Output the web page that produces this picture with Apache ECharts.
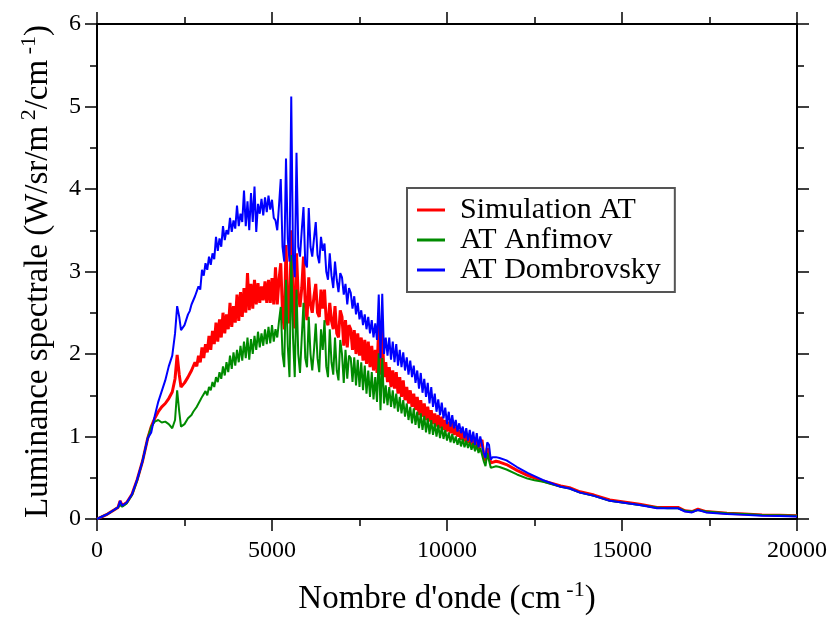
<!DOCTYPE html>
<html>
<head>
<meta charset="utf-8">
<script src="https://cdn.jsdelivr.net/npm/echarts@6/dist/echarts.min.js"></script>
<style>
  html, body { margin: 0; padding: 0; background: #fff; }
  #chart { width: 837px; height: 618px; }
</style>
</head>
<body>
<div id="chart"></div>
<script>
// nombre d'onde (cm-1)
var wavenumbers = [
  0, 150, 300, 450, 600, 660, 720, 850, 1000, 1150, 1300, 1450, 1550, 1650, 1750, 1850, 1950, 2050, 2150, 2230, 2290, 2350, 2400, 2500,
  2600, 2650, 2700, 2750, 2800, 2850, 2900, 2950, 3000, 3050,
  3100, 3150, 3200, 3250, 3300, 3350, 3400, 3450, 3500, 3550,
  3600, 3650, 3700, 3750, 3800, 3850, 3900, 3950, 4000, 4050,
  4100, 4150, 4200, 4250, 4300, 4350, 4400, 4450, 4500, 4550,
  4600, 4650, 4700, 4750, 4800, 4850, 4900, 4950, 5000, 5050,
  5100,
  5150, 5200, 5250, 5300, 5350, 5400, 5450, 5500, 5550, 5600,
  5650, 5700, 5750, 5800, 5850, 5900, 5950, 6000, 6050, 6100,
  6150, 6200, 6250, 6300, 6350, 6400,
  6450, 6500, 6550, 6600, 6650, 6700, 6750, 6800, 6850, 6900,
  6950, 7000, 7050, 7100, 7150, 7200, 7250, 7300, 7350, 7400,
  7450, 7500, 7550, 7600, 7650, 7700, 7750, 7800, 7850, 7900,
  7950, 8000, 8050, 8100, 8150, 8200, 8250, 8300, 8350, 8400,
  8450, 8500, 8550, 8600, 8650, 8700, 8750, 8800, 8850, 8900,
  8950, 9000, 9050, 9100, 9150, 9200, 9250, 9300, 9350, 9400,
  9450, 9500, 9550, 9600, 9650, 9700, 9750, 9800, 9850, 9900,
  9950, 10000, 10050, 10100, 10150, 10200, 10250, 10300, 10350, 10400,
  10450, 10500, 10550, 10600, 10650, 10700, 10750, 10800, 10850, 10900,
  10950, 11000, 11050, 11100, 11150, 11200, 11250, 11300,
  11400, 11500, 11700, 12000, 12300, 12500, 12750, 13000, 13250, 13500, 13800, 14200, 14650, 15000, 15500, 16000, 16300, 16600, 16800, 17000, 17170, 17400, 18000, 18500, 19000, 19500, 20000
];

var simulationAT = [
  0, 0.03, 0.06, 0.1, 0.14, 0.22, 0.16, 0.2, 0.3, 0.48, 0.7, 0.98, 1.12, 1.22, 1.3, 1.36, 1.4, 1.46, 1.54, 1.7, 1.99, 1.75, 1.6, 1.65,
  1.72, 1.76, 1.8, 1.78, 1.9, 1.85, 1.98, 1.9, 2.08, 1.95,
  2.12, 2.02, 2.22, 2.05, 2.28, 2.12, 2.38, 2.15, 2.42, 2.2,
  2.5, 2.25, 2.48, 2.3, 2.62, 2.33, 2.58, 2.38, 2.72, 2.4,
  2.75, 2.45, 2.8, 2.5, 2.98, 2.53, 2.85, 2.55, 2.9, 2.6,
  2.86, 2.62, 2.82, 2.65, 2.88, 2.62, 2.9, 2.62, 2.92, 2.6,
  3.05,
  2.6, 2.9, 3.1, 2.5, 2.3, 3.32, 2.6, 2.37, 3.5, 2.7,
  2.31, 3.22, 2.7, 2.57, 2.8, 3.18, 2.6, 2.41, 2.93, 2.6,
  2.5, 2.7, 2.85, 2.5, 2.45, 2.78,
  2.55, 2.78, 2.4, 2.35, 2.62, 2.4, 2.3, 2.58, 2.25, 2.2,
  2.53, 2.45, 2.1, 2.41, 2.08, 2.35, 2.3, 2.05, 2.29, 2.0,
  2.25, 1.98, 2.2, 1.92, 2.17, 1.88, 2.15, 1.84, 2.1, 1.8,
  2.05, 1.77, 2.37, 1.75, 2.3, 1.72, 1.9, 1.66, 1.84, 1.6,
  1.8, 1.58, 1.78, 1.52, 1.72, 1.48, 1.68, 1.44, 1.6, 1.4,
  1.56, 1.36, 1.52, 1.32, 1.48, 1.26, 1.44, 1.24, 1.4, 1.2,
  1.36, 1.18, 1.32, 1.15, 1.28, 1.12, 1.26, 1.1, 1.24, 1.08,
  1.2, 1.06, 1.18, 1.04, 1.16, 1.02, 1.12, 1.0, 1.08, 0.96,
  1.06, 0.94, 1.04, 0.92, 1.0, 0.9, 0.98, 0.86, 0.96, 0.84,
  0.92, 0.96, 0.76, 0.7, 0.86, 0.84, 0.68, 0.7,
  0.7, 0.69, 0.66, 0.59, 0.53, 0.5, 0.46, 0.43, 0.4, 0.38, 0.33, 0.29, 0.23, 0.21, 0.18, 0.14, 0.14, 0.14, 0.1, 0.09, 0.12, 0.09, 0.07, 0.06, 0.05, 0.045, 0.04
];

var atAnfimov = [
  0, 0.03, 0.06, 0.1, 0.14, 0.17, 0.15, 0.19, 0.29, 0.47, 0.7, 0.98, 1.12, 1.18, 1.2, 1.17, 1.18, 1.15, 1.1, 1.2, 1.56, 1.3, 1.12, 1.15,
  1.22, 1.24, 1.26, 1.3, 1.33, 1.36, 1.4, 1.44, 1.48, 1.46,
  1.55, 1.5, 1.6, 1.56, 1.66, 1.6, 1.72, 1.66, 1.78, 1.7,
  1.85, 1.74, 1.9, 1.78, 1.98, 1.82, 2.02, 1.86, 2.05, 1.9,
  2.1, 1.92, 2.15, 1.95, 2.2, 1.93, 2.18, 2.0, 2.22, 2.05,
  2.27, 2.08, 2.25, 2.1, 2.3, 2.12, 2.33, 2.13, 2.35, 2.15,
  2.3,
  2.2, 2.4, 2.57, 2.0, 1.84, 2.9, 2.1, 1.72, 3.2, 2.2,
  1.72, 2.78, 2.0, 1.77, 2.2, 2.62, 1.95, 1.84, 2.45, 2.0,
  1.8, 2.05, 2.37, 1.95, 1.78, 2.3,
  2.05, 2.41, 1.85, 1.72, 2.3, 1.9, 1.75, 2.2, 1.8, 1.68,
  2.17, 2.0, 1.65, 2.05, 1.7, 1.98, 1.95, 1.66, 1.96, 1.62,
  1.93, 1.6, 1.9, 1.56, 1.86, 1.52, 1.8, 1.48, 1.78, 1.45,
  1.72, 1.42, 2.01, 1.32, 1.95, 1.4, 1.62, 1.38, 1.6, 1.36,
  1.56, 1.34, 1.52, 1.3, 1.48, 1.28, 1.44, 1.24, 1.4, 1.2,
  1.36, 1.16, 1.34, 1.14, 1.3, 1.1, 1.28, 1.08, 1.25, 1.05,
  1.22, 1.03, 1.2, 1.02, 1.16, 1.0, 1.14, 0.98, 1.12, 0.97,
  1.08, 0.95, 1.05, 0.93, 1.03, 0.92, 1.0, 0.9, 0.98, 0.88,
  0.97, 0.87, 0.95, 0.86, 0.93, 0.84, 0.92, 0.82, 0.9, 0.8,
  0.86, 0.88, 0.7, 0.64, 0.8, 0.78, 0.62, 0.64,
  0.64, 0.63, 0.6, 0.54, 0.49, 0.47, 0.45, 0.42, 0.39, 0.37, 0.32, 0.28, 0.22, 0.2, 0.17, 0.14, 0.13, 0.13, 0.1, 0.09, 0.11, 0.09, 0.07, 0.06, 0.05, 0.045, 0.04
];

var atDombrovsky = [
  0, 0.03, 0.06, 0.1, 0.14, 0.22, 0.16, 0.2, 0.3, 0.48, 0.7, 0.98, 1.05, 1.25, 1.42, 1.55, 1.68, 1.85, 1.98, 2.25, 2.58, 2.45, 2.29, 2.35,
  2.48, 2.52, 2.6, 2.58, 2.7, 2.68, 2.82, 2.78, 3.02, 2.95,
  3.1, 3.02, 3.18, 3.08, 3.22, 3.15, 3.42, 3.25, 3.4, 3.3,
  3.55, 3.38, 3.5, 3.45, 3.65, 3.48, 3.62, 3.52, 3.8, 3.55,
  3.7, 3.6, 3.98, 3.55, 3.85, 3.5, 3.95, 3.6, 4.03, 3.48,
  3.82, 3.7, 3.88, 3.68, 3.9, 3.72, 3.92, 3.75, 3.87, 3.65,
  3.62,
  3.5, 3.8, 4.12, 3.3, 3.12, 4.37, 3.4, 3.12, 5.12, 3.2,
  2.93, 4.44, 3.3, 3.18, 3.5, 3.78, 3.1, 3.05, 3.77, 3.3,
  3.18, 3.4, 3.6, 3.2, 3.1, 3.42,
  3.25, 3.34, 3.0, 2.9, 3.22, 2.95, 2.8, 3.12, 2.9, 2.75,
  2.98, 2.93, 2.72, 2.85, 2.6, 2.8, 2.74, 2.55, 2.7, 2.48,
  2.62, 2.42, 2.53, 2.35, 2.48, 2.3, 2.45, 2.25, 2.41, 2.2,
  2.37, 2.17, 2.72, 1.95, 2.73, 2.0, 2.2, 1.98, 2.2, 1.93,
  2.15, 1.9, 2.12, 1.86, 2.05, 1.84, 2.02, 1.8, 1.96, 1.75,
  1.92, 1.72, 1.86, 1.65, 1.8, 1.58, 1.77, 1.53, 1.7, 1.48,
  1.65, 1.4, 1.6, 1.36, 1.52, 1.3, 1.45, 1.26, 1.41, 1.22,
  1.35, 1.15, 1.3, 1.12, 1.26, 1.1, 1.2, 1.06, 1.16, 1.04,
  1.12, 0.98, 1.1, 0.95, 1.08, 0.93, 1.06, 0.9, 1.04, 0.87,
  1.0, 1.02, 0.8, 0.74, 0.93, 0.9, 0.72, 0.75,
  0.75, 0.74, 0.71, 0.63, 0.56, 0.52, 0.47, 0.43, 0.39, 0.37, 0.32, 0.28, 0.22, 0.2, 0.17, 0.13, 0.13, 0.13, 0.09, 0.08, 0.11, 0.08, 0.06, 0.05, 0.04, 0.035, 0.03
];

var xTicks = [0, 5000, 10000, 15000, 20000];
var yTicks = [0, 1, 2, 3, 4, 5, 6];

function pairs(xs, ys) {
  var out = [];
  for (var i = 0; i < xs.length; i++) out.push([xs[i], ys[i]]);
  return out;
}

var serif = 'Liberation Serif';

function frameAxis(pos, isX, labels) {
  return {
    type: 'value',
    position: pos,
    min: isX ? xTicks[0] : yTicks[0],
    max: isX ? xTicks[xTicks.length - 1] : yTicks[yTicks.length - 1],
    interval: isX ? 5000 : 1,
    axisLine: { show: true, onZero: false, lineStyle: { color: '#000', width: 2 } },
    axisTick: { show: true, length: 12, lineStyle: { color: '#000', width: 1.5 } },
    minorTick: { show: true, splitNumber: 2, length: 7, lineStyle: { color: '#000', width: 1.5 } },
    splitLine: { show: false },
    axisLabel: {
      show: labels,
      color: '#000',
      fontFamily: serif,
      fontSize: 24,
      margin: isX ? 20 : 16,
      formatter: function(v) { return String(v); }
    }
  };
}

var titleStyle = {
  color: '#000', fontFamily: serif, fontSize: 33, lineHeight: 40,
  rich: { sup: { fontFamily: serif, fontSize: 22, verticalAlign: 'top', lineHeight: 40, padding: [0, 0, 18, 0] } }
};

var xMain = frameAxis('bottom', true, true);
xMain.name = "Nombre d'onde (cm{sup| -1})";
xMain.nameLocation = 'middle';
xMain.nameGap = 60;
xMain.nameTextStyle = titleStyle;

var yMain = frameAxis('left', false, true);
yMain.name = 'Luminance spectrale (W/sr/m{sup| 2}/cm{sup| -1})';
yMain.nameLocation = 'middle';
yMain.nameGap = 38;
yMain.nameTextStyle = titleStyle;

var chart = echarts.init(document.getElementById('chart'));
chart.setOption({
  animation: false,
  backgroundColor: '#fff',
  grid: { left: 97, right: 40, top: 24, bottom: 99, containLabel: false, outerBoundsMode: 'none' },
  legend: {
    orient: 'vertical',
    left: 407,
    top: 188,
    padding: [7, 14, 7, 10],
    itemGap: 0,
    itemWidth: 28,
    itemHeight: 3,
    icon: 'rect',
    borderColor: '#555',
    borderWidth: 2,
    backgroundColor: '#fff',
    textStyle: { color: '#000', fontFamily: serif, fontSize: 30, lineHeight: 29, padding: [0, 0, 0, 10] },
    data: ['Simulation AT', 'AT Anfimov', 'AT Dombrovsky']
  },
  xAxis: [xMain, frameAxis('top', true, false)],
  yAxis: [yMain, frameAxis('right', false, false)],
  series: [
    { name: 'Simulation AT', type: 'line', showSymbol: false, data: pairs(wavenumbers, simulationAT),
      lineStyle: { color: '#ff0000', width: 3 }, itemStyle: { color: '#ff0000' } },
    { name: 'AT Anfimov', type: 'line', showSymbol: false, data: pairs(wavenumbers, atAnfimov),
      lineStyle: { color: '#008b00', width: 2 }, itemStyle: { color: '#008b00' } },
    { name: 'AT Dombrovsky', type: 'line', showSymbol: false, data: pairs(wavenumbers, atDombrovsky),
      lineStyle: { color: '#0000ff', width: 2 }, itemStyle: { color: '#0000ff' } }
  ]
});
</script>
</body>
</html>
